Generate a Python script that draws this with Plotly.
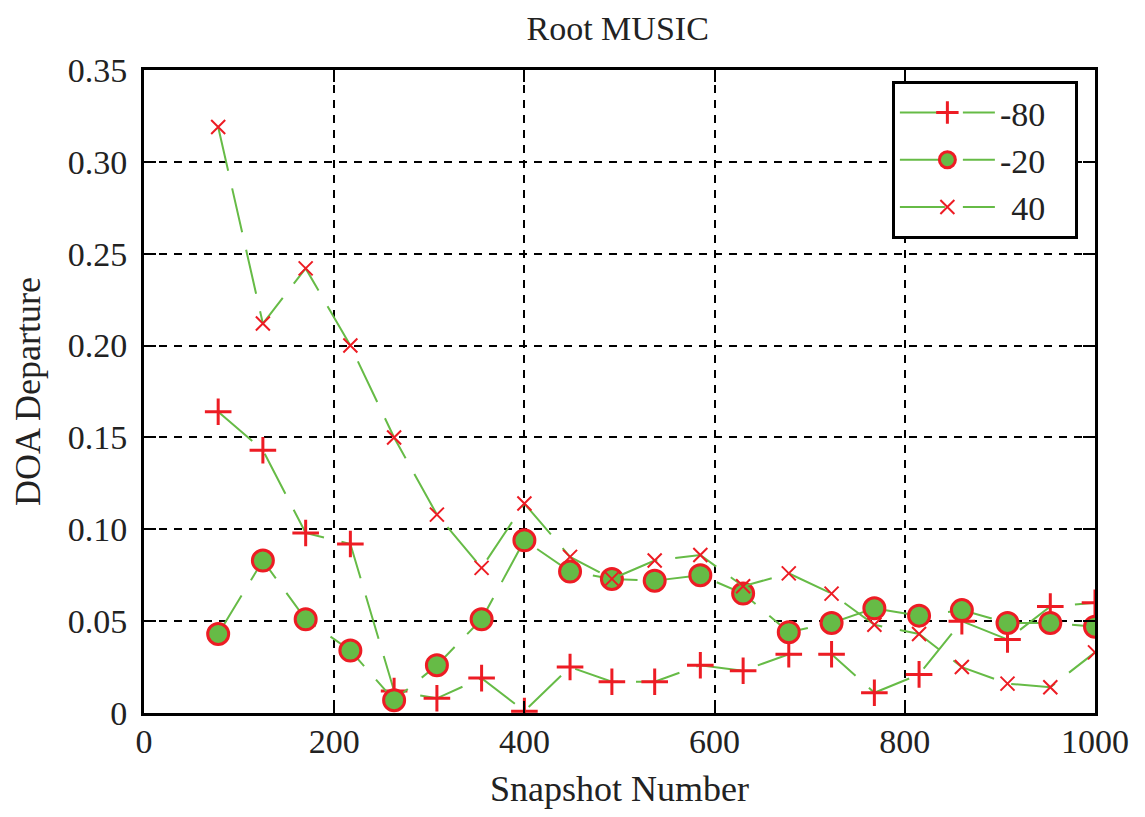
import plotly.graph_objects as go

# Snapshot numbers (x)
snapshots = [78, 125, 170, 217, 263, 308, 355, 400, 448, 492, 537,
             585, 630, 678, 723, 768, 815, 860, 908, 953, 1000]

# DOA departure for each source angle
dep_m80 = [0.164, 0.143, 0.098, 0.092, 0.012, 0.008, 0.019, 0.001, 0.025, 0.017, 0.017,
           0.026, 0.023, 0.032, 0.032, 0.011, 0.021, 0.050, 0.040, 0.058, 0.060]
dep_m20 = [0.043, 0.083, 0.051, 0.034, 0.007, 0.026, 0.051, 0.094, 0.077, 0.073, 0.072,
           0.075, 0.065, 0.044, 0.049, 0.057, 0.053, 0.056, 0.049, 0.049, 0.047]
dep_40 = [0.319, 0.212, 0.242, 0.200, 0.150, 0.108, 0.079, 0.114, 0.085, 0.073, 0.083,
          0.086, 0.069, 0.076, 0.065, 0.048, 0.043, 0.025, 0.016, 0.014, 0.033]

series_names = ["-80\u2002\u2009", "-20\u2002\u2009", "\u200440\u2002\u2009"]

x_ticks = [0, 200, 400, 600, 800, 1000]
y_ticks = [0, 0.05, 0.10, 0.15, 0.20, 0.25, 0.30, 0.35]
y_tick_text = ["0", "0.05", "0.10", "0.15", "0.20", "0.25", "0.30", "0.35"]

GREEN = "#66BB46"
RED = "#ED1C24"
FONT = "Liberation Serif"
LINE = dict(color=GREEN, width=2, dash="45px,18px")

fig = go.Figure()
fig.add_trace(go.Scatter(
    x=snapshots, y=dep_m80, name=series_names[0], mode="lines+markers",
    line=LINE,
    marker=dict(symbol="cross-thin", size=19, line=dict(color=RED, width=3), color=RED),
))
fig.add_trace(go.Scatter(
    x=snapshots, y=dep_m20, name=series_names[1], mode="lines+markers",
    line=LINE,
    marker=dict(symbol="circle", size=21, color=GREEN, line=dict(color=RED, width=3)),
))
fig.add_trace(go.Scatter(
    x=snapshots, y=dep_40, name=series_names[2], mode="lines+markers",
    line=LINE,
    marker=dict(symbol="x-thin", size=14, line=dict(color=RED, width=2), color=RED),
))

axis_common = dict(
    showline=True, linecolor="black", linewidth=3, mirror="ticks",
    ticks="inside", ticklen=12, tickwidth=2, tickcolor="black",
    showgrid=True, gridcolor="black", gridwidth=2, griddash="8px,7px",
    zeroline=False, automargin=False,
    tickfont=dict(family=FONT, size=34, color="#222"),
    title_font=dict(family=FONT, size=36, color="#222"),
)

fig.update_xaxes(range=[0, 1000], tickvals=x_ticks, ticklabelstandoff=-4,
                 title=dict(text="Snapshot Number", standoff=20), **axis_common)
fig.update_yaxes(range=[0, 0.35], tickvals=y_ticks, ticktext=y_tick_text,
                 ticklabelstandoff=7,
                 title=dict(text="DOA Departure", standoff=25), **axis_common)

# the page body has an 8px margin; size the figure so the plot area sits
# at the same place as in the reference
fig.update_layout(
    width=1129, height=801,
    margin=dict(l=136, r=42, t=62, b=96, autoexpand=False),
    paper_bgcolor="white", plot_bgcolor="white",
    title=dict(text="Root MUSIC", x=0.54, xanchor="center", y=0.975, yanchor="middle",
               font=dict(family=FONT, size=34, color="#222")),
    showlegend=True,
    legend=dict(x=0.982, xanchor="right", y=0.983, yanchor="top",
                bgcolor="white", bordercolor="black", borderwidth=3,
                font=dict(family=FONT, size=34, color="#222"),
                itemwidth=95, tracegroupgap=0),
)

fig.write_html("out.html")
